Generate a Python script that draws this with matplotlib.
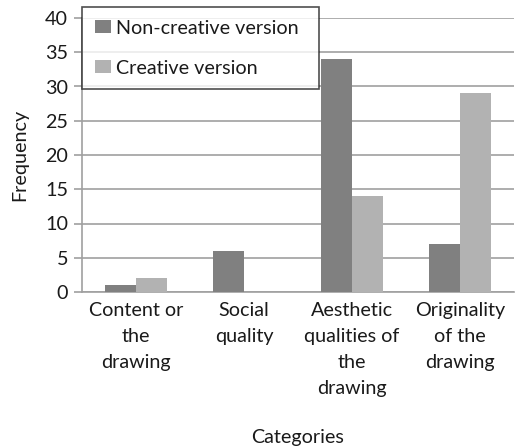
import matplotlib
matplotlib.use("Agg")
import matplotlib.pyplot as plt
import numpy as np

plt.rcParams['font.family'] = ['Lato', 'DejaVu Sans']

categories = ["Content or\nthe\ndrawing", "Social\nquality",
              "Aesthetic\nqualities of\nthe\ndrawing", "Originality\nof the\ndrawing"]
non_creative = [1, 6, 34, 7]
creative = [2, 0, 14, 29]
series_names = ["Non-creative version", "Creative version"]
y_ticks = [0, 5, 10, 15, 20, 25, 30, 35, 40]

dark = "#808080"
light = "#b2b2b2"
grid_c = "#a0a0a0"
text_c = "#1a1a1a"
fs = 14.2

fig = plt.figure(figsize=(5.16, 4.47), dpi=100)
ax = fig.add_axes([82/516, 1-292/447, 432/516, 274/447])

x = np.arange(len(categories))
w = 0.287
ax.bar(x - w/2, non_creative, w, color=dark, label=series_names[0], zorder=3)
ax.bar(x + w/2, creative, w, color=light, label=series_names[1], zorder=3)

ax.set_xlim(-0.5, len(categories) - 0.5)
ax.set_ylim(0, 40)
ax.set_yticks(y_ticks)
ax.yaxis.grid(True, color=grid_c, linewidth=1.2, zorder=0)
ax.set_axisbelow(True)

for s in ["top", "right"]:
    ax.spines[s].set_visible(False)
ax.spines["left"].set_color(grid_c)
ax.spines["bottom"].set_color(grid_c)
ax.spines["left"].set_linewidth(1.2)
ax.spines["bottom"].set_linewidth(1.2)

ax.set_xticks(x)
ax.set_xticklabels(categories, fontsize=fs, color=text_c, linespacing=1.65)
ax.tick_params(axis="x", length=0, pad=7)
ax.tick_params(axis="y", length=6, width=1.2, color=grid_c, labelsize=fs,
               labelcolor=text_c, pad=4)

ax.set_ylabel("Frequency", fontsize=fs, color=text_c, labelpad=12)
fig.text(298/516, 1-437/447, "Categories", ha="center", va="center",
         fontsize=fs, color=text_c)

# legend box spans a fixed width at the top-left of the plot area
leg = ax.legend(loc="upper left",
                bbox_to_anchor=(82/516, 1-7/447 - 0.2, 237/516, 0.2),
                bbox_transform=fig.transFigure, mode="expand", fontsize=fs,
                frameon=True, fancybox=False, edgecolor="#222222",
                handlelength=0.8, handleheight=0.62, handletextpad=0.25,
                labelspacing=1.15, borderpad=0.65, borderaxespad=0)
leg.get_frame().set_linewidth(1.2)
leg.set_zorder(5)
for t in leg.get_texts():
    t.set_color(text_c)

fig.savefig("out.png", dpi=100)
